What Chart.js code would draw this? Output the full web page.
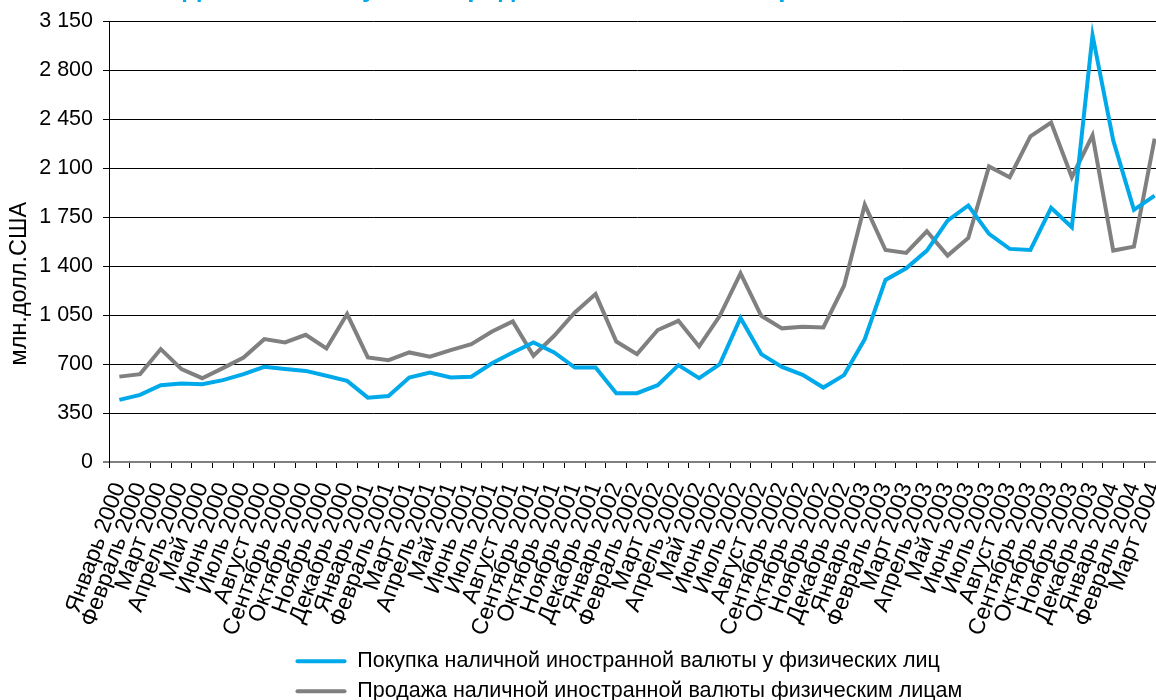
<!DOCTYPE html>
<html lang="ru">
<head>
<meta charset="utf-8">
<title>Покупка и продажа наличной иностранной валюты</title>
<script src="https://cdn.jsdelivr.net/npm/chart.js@4.4.1/dist/chart.umd.min.js"></script>
<style>
  html, body { margin: 0; padding: 0; background: #fff; overflow: hidden; width: 1156px; height: 700px; }
  #wrap { position: absolute; left: 0; top: -26px; width: 1165px; height: 738px; }
</style>
</head>
<body>
<div id="wrap"><canvas id="chart"></canvas></div>
<script>
// categories: months Jan 2000 .. Mar 2004
const categories = [
  'Январь 2000', 'Февраль 2000', 'Март 2000', 'Апрель 2000', 'Май 2000', 'Июнь 2000',
  'Июль 2000', 'Август 2000', 'Сентябрь 2000', 'Октябрь 2000', 'Ноябрь 2000', 'Декабрь 2000',
  'Январь 2001', 'Февраль 2001', 'Март 2001', 'Апрель 2001', 'Май 2001', 'Июнь 2001',
  'Июль 2001', 'Август 2001', 'Сентябрь 2001', 'Октябрь 2001', 'Ноябрь 2001', 'Декабрь 2001',
  'Январь 2002', 'Февраль 2002', 'Март 2002', 'Апрель 2002', 'Май 2002', 'Июнь 2002',
  'Июль 2002', 'Август 2002', 'Сентябрь 2002', 'Октябрь 2002', 'Ноябрь 2002', 'Декабрь 2002',
  'Январь 2003', 'Февраль 2003', 'Март 2003', 'Апрель 2003', 'Май 2003', 'Июнь 2003',
  'Июль 2003', 'Август 2003', 'Сентябрь 2003', 'Октябрь 2003', 'Ноябрь 2003', 'Декабрь 2003',
  'Январь 2004', 'Февраль 2004', 'Март 2004',
];

// млн. долл. США
const buying = [
  444, 480, 549, 561, 556, 585, 628, 680, 664, 651, 616, 580,
  460, 472, 604, 639, 604, 609, 705, 783, 854, 783, 675, 675,
  492, 492, 549, 692, 599, 699, 1029, 771, 680, 623, 532, 621,
  878, 1301, 1384, 1511, 1725, 1833, 1630, 1523, 1515, 1816, 1678, 3050,
  2298, 1802, 1904,
];

const selling = [
  610, 628, 807, 664, 599, 671, 747, 878, 854, 909, 811, 1057,
  747, 728, 783, 752, 800, 842, 933, 1005, 759, 902, 1069, 1200,
  861, 771, 943, 1009, 826, 1045, 1348, 1045, 955, 966, 962, 1260,
  1838, 1515, 1494, 1649, 1475, 1601, 2112, 2035, 2327, 2425, 2035, 2334,
  1511, 1539, 2310,
];

const yTicks = [0, 350, 700, 1050, 1400, 1750, 2100, 2450, 2800, 3150];

const seriesNames = [
  'Покупка наличной иностранной валюты у физических лиц',
  'Продажа наличной иностранной валюты физическим лицам',
];

const BLUE = '#00a9e9';
const GRAY = '#808080';

Chart.defaults.font.family = "'Liberation Sans', Arial, sans-serif";
Chart.defaults.color = '#000';

const fmt = v => String(v).replace(/\B(?=(\d{3})+(?!\d))/g, '\u00a0');

// y title sits a bit below the axis middle in the original, and the legend rows
// are left-aligned to one x, so both get nudged here
const layoutTweaks = {
  id: 'layoutTweaks',
  afterLayout(chart) {
    const lg = chart.legend;
    const dx = 287 - lg.left;
    lg.left += dx;
    lg.right += dx;
  },
  afterDraw(chart) {
    const { ctx, chartArea } = chart;
    ctx.save();
    ctx.translate(20, (chartArea.top + chartArea.bottom) / 2 + 42);
    ctx.rotate(-Math.PI / 2);
    ctx.font = "23.5px 'Liberation Sans', Arial, sans-serif";
    ctx.fillStyle = '#000';
    ctx.textAlign = 'center';
    ctx.textBaseline = 'middle';
    ctx.fillText('млн.долл.США', 0, 0);
    ctx.restore();
  },
};

new Chart(document.getElementById('chart'), {
  type: 'line',
  data: {
    labels: categories,
    datasets: [
      { label: seriesNames[0], data: buying, borderColor: BLUE, backgroundColor: BLUE },
      { label: seriesNames[1], data: selling, borderColor: GRAY, backgroundColor: GRAY },
    ],
  },
  options: {
    responsive: true,
    maintainAspectRatio: false,
    animation: false,
    layout: { padding: 0 },
    elements: {
      line: { borderWidth: 4, tension: 0 },
      point: { radius: 0, hoverRadius: 0 },
    },
    plugins: {
      title: {
        display: true,
        text: 'Динамика покупки и продажи наличной иностранной валюты',
        color: BLUE,
        font: { size: 26, weight: 'bold' },
        padding: { top: 0, bottom: 16 },
      },
      legend: {
        position: 'bottom',
        align: 'start',
        fullSize: false,
        labels: {
          boxWidth: 51,
          boxHeight: 4,
          padding: 8.5,
          font: { size: 21.5 },
          useBorderRadius: true,
          borderRadius: 2,
          generateLabels: (chart) => Chart.defaults.plugins.legend.labels.generateLabels(chart)
            .map(item => ({ ...item, lineWidth: 0 })),
        },
      },
      tooltip: { enabled: false },
    },
    scales: {
      x: {
        offset: true,
        grid: { offset: true, drawOnChartArea: false, drawTicks: true, tickLength: 6, color: '#000' },
        border: { color: GRAY, width: 2 },
        ticks: { autoSkip: false, minRotation: 70, maxRotation: 70, padding: 11, font: { size: 23 } },
        afterFit: (scale) => {
          scale.height = 180;
          scale.paddingLeft = 0;
          scale.paddingRight = 0;
        },
      },
      y: {
        min: 0,
        max: 3150,
        afterBuildTicks: (scale) => { scale.ticks = yTicks.map(v => ({ value: v })); },
        grid: {
          color: (c) => (c.tick && c.tick.value === 0 ? GRAY : '#000'),
          lineWidth: (c) => (c.tick && c.tick.value === 0 ? 2 : 1),
          tickLength: 6,
        },
        border: { color: '#000', width: 1 },
        ticks: { padding: 10, font: { size: 21.5 }, callback: (v) => fmt(v) },
        afterFit: (scale) => { scale.width = 109; },
      },
    },
  },
  plugins: [layoutTweaks],
});
</script>
</body>
</html>
